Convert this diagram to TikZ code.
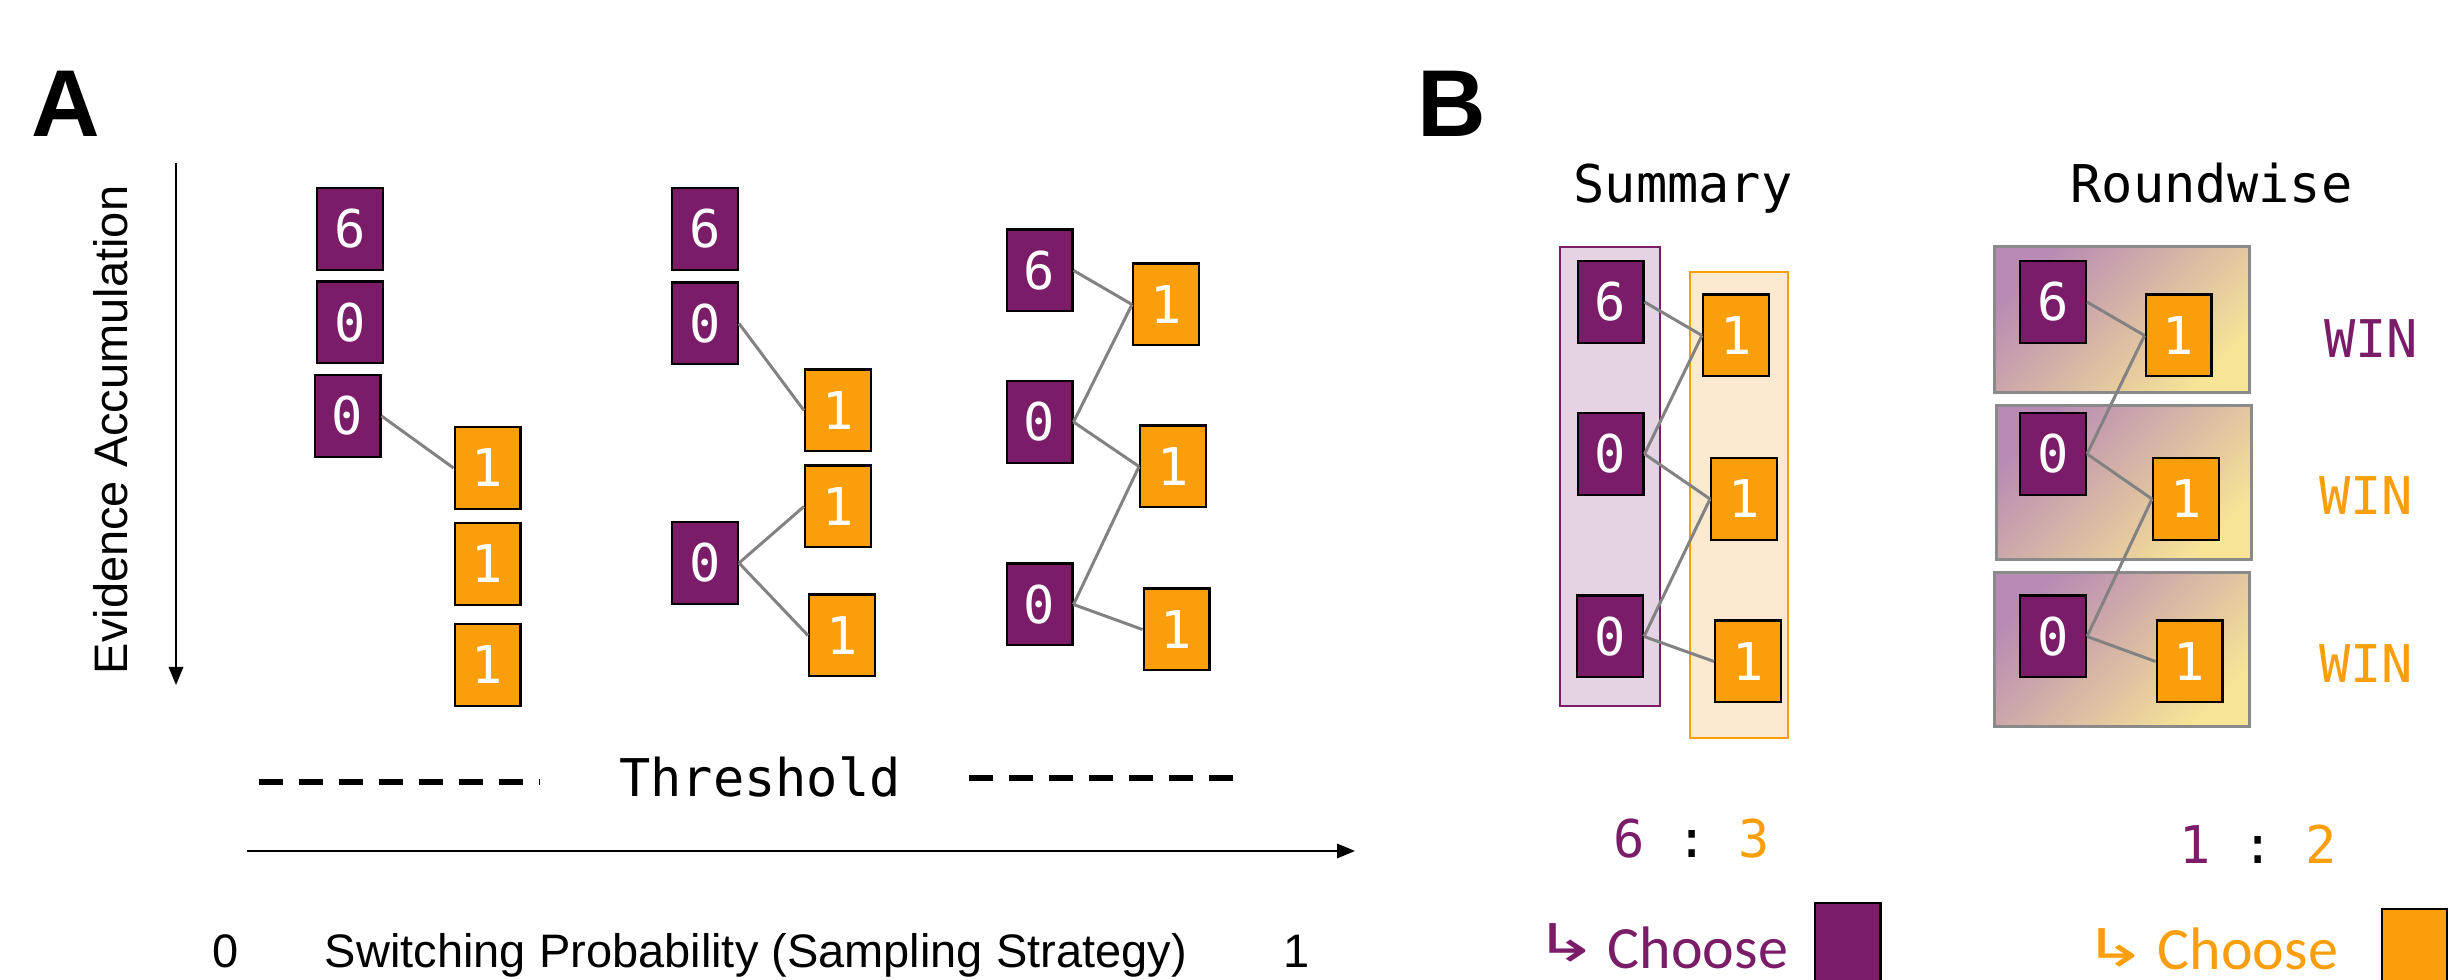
\documentclass[tikz,border=0pt]{standalone}
\usepackage{fontspec}
\setmainfont{Liberation Sans}
\setmonofont{DejaVu Sans Mono}
\newfontfamily\calfont{Carlito}
\newfontfamily\symfont{DejaVu Sans}
\usetikzlibrary{arrows.meta}

\definecolor{Plum}{RGB}{122,28,104}
\definecolor{Amber}{RGB}{250,158,11}
\definecolor{LinkGray}{RGB}{130,130,130}
\definecolor{PlumPale}{RGB}{227,211,227}
\definecolor{AmberPale}{RGB}{252,234,208}
\definecolor{RoundTop}{RGB}{184,138,180}
\definecolor{RoundBot}{RGB}{247,228,150}
\definecolor{FrameGray}{RGB}{138,138,138}

% wide return-arrow glyph
\newcommand{\widehook}{\scalebox{1.5}[1]{↳}}

\tikzset{
  cell/.style={draw=black, line width=0.6pt, minimum width=16.4pt, minimum height=20.4pt,
               inner sep=0pt, text=white, font=\fontsize{13pt}{15pt}\selectfont\ttfamily},
  pcell/.style={cell, fill=Plum},
  ocell/.style={cell, fill=Amber},
  link/.style={draw=LinkGray, line width=0.75pt},
  axisline/.style={line width=0.5pt, -{Triangle[length=4.5pt,width=3.6pt]}},
  thresh/.style={line width=1.5pt, dash pattern=on 6pt off 4pt},
  mono/.style={inner sep=0pt, font=\fontsize{13pt}{15pt}\selectfont\ttfamily},
  sans/.style={inner sep=0pt, font=\fontsize{11.75pt}{14pt}\selectfont},
  panel/.style={inner sep=0pt, anchor=base west, font=\fontsize{23.75pt}{28pt}\selectfont\bfseries},
  choose/.style={inner sep=0pt, anchor=base west, font=\fontsize{15pt}{18pt}\selectfont\calfont},
  hook/.style={inner sep=0pt, anchor=base west, font=\fontsize{13pt}{15pt}\selectfont\symfont},
  roundframe/.style={draw=FrameGray, line width=0.75pt, top color=RoundTop,
                     bottom color=RoundBot, shading angle=45},
}

\begin{document}
\begin{tikzpicture}[x=0.25pt,y=-0.25pt]
\path[use as bounding box] (0,0) rectangle (2448,980);
\clip (0,0) rectangle (2448,980);

% ---------- panel labels ----------
\node[panel] (labA) at (31,137) {A};
\node[panel] (labB) at (1417,137) {B};

% ---------- panel A: axes ----------
\coordinate (evTop) at (176,163);
\coordinate (evEnd) at (176,685);
\draw[axisline] (evTop) -- (evEnd);
\node[sans, rotate=90] (evLabel) at (111,430) {Evidence Accumulation};

\coordinate (spL) at (247,851);
\coordinate (spR) at (1355,851);
\draw[axisline] (spL) -- (spR);
\node[sans, anchor=base] (pZero) at (226,968) {0};
\node[sans, anchor=base] (spLabel) at (756,968) {Switching Probability (Sampling Strategy)};
\node[sans, anchor=base] (pOne) at (1297,968) {1};

\coordinate (thL1) at (259,782);
\coordinate (thL2) at (540,782);
\coordinate (thR1) at (969,778);
\coordinate (thR2) at (1248,778);
\draw[thresh] (thL1) -- (thL2);
\draw[thresh] (thR1) -- (thR2);
\node[mono, anchor=base] (thText) at (760,797) {Threshold};

% ---------- panel A: first sequence ----------
\node[pcell] (a1p6)  at (350,229)   {6};
\node[pcell] (a1p0)  at (350,322.5) {0};
\node[pcell] (a1p0b) at (347.5,416) {0};
\node[ocell] (a1o1)  at (487.5,468) {1};
\node[ocell] (a1o2)  at (487.5,564) {1};
\node[ocell] (a1o3)  at (487.5,665) {1};
\draw[link] (a1p0b.east) -- (a1o1.west);

% ---------- panel A: second sequence ----------
\node[pcell] (a2p6)  at (705,229)   {6};
\node[pcell] (a2p0)  at (705,323.5) {0};
\node[ocell] (a2oa)  at (838,410.5) {1};
\node[ocell] (a2ob)  at (838,506.5) {1};
\node[pcell] (a2p0b) at (705,563)   {0};
\node[ocell] (a2oc)  at (842,635.5) {1};
\draw[link] (a2p0.east) -- (a2oa.west);
\draw[link] (a2p0b.east) -- (a2ob.west);
\draw[link] (a2p0b.east) -- (a2oc.west);

% ---------- panel A: third sequence ----------
\node[pcell] (a3p6)  at (1039.5,270.5) {6};
\node[pcell] (a3p0)  at (1039.5,422)   {0};
\node[pcell] (a3p0b) at (1039.5,604.5) {0};
\node[ocell] (a3oa)  at (1166,304.5)   {1};
\node[ocell] (a3ob)  at (1173,466.5)   {1};
\node[ocell] (a3oc)  at (1176.5,629.5) {1};
\draw[link] (a3p6.east) -- (a3oa.west);
\draw[link] (a3p0.east) -- (a3oa.west);
\draw[link] (a3p0.east) -- (a3ob.west);
\draw[link] (a3p0b.east) -- (a3ob.west);
\draw[link] (a3p0b.east) -- (a3oc.west);

% ---------- panel B: summary ----------
\node[mono, anchor=base] (sumTitle) at (1683,203) {Summary};
\filldraw[fill=PlumPale, draw=Plum, line width=0.5pt] (1560,247) rectangle (1660,706);
\filldraw[fill=AmberPale, draw=Amber, line width=0.5pt] (1690,272) rectangle (1788,738);
\node[pcell] (sp6)  at (1610.5,302)  {6};
\node[pcell] (sp0)  at (1610.5,454)  {0};
\node[pcell] (sp0b) at (1610,636.5)  {0};
\node[ocell] (soa)  at (1736,335.5)  {1};
\node[ocell] (sob)  at (1744,499)    {1};
\node[ocell] (soc)  at (1748,661.5)  {1};
\draw[link] (sp6.east) -- (soa.west);
\draw[link] (sp0.east) -- (soa.west);
\draw[link] (sp0.east) -- (sob.west);
\draw[link] (sp0b.east) -- (sob.west);
\draw[link] (sp0b.east) -- (soc.west);

\node[mono, anchor=base] (sumRatio) at (1692,858)
  {\textcolor{Plum}{6} : \textcolor{Amber}{3}};
\node[hook, text=Plum] (sumHook) at (1533,962) {\widehook};
\node[choose, text=Plum] (sumChoose) at (1607,969) {Choose};
\node[pcell] (sumPick) at (1847.5,944) {};

% ---------- panel B: roundwise ----------
\node[mono, anchor=base] (rndTitle) at (2211.5,203) {Roundwise};
\shadedraw[roundframe] (1994,247) rectangle (2249,393);
\shadedraw[roundframe] (1996,406) rectangle (2251,560);
\shadedraw[roundframe] (1994,573) rectangle (2249,727);
\node[pcell] (rp6)  at (2053,302)    {6};
\node[pcell] (rp0)  at (2053,454)    {0};
\node[pcell] (rp0b) at (2053,636.5)  {0};
\node[ocell] (roa)  at (2178.5,335.5) {1};
\node[ocell] (rob)  at (2186,499)    {1};
\node[ocell] (roc)  at (2189.5,661.5) {1};
\draw[link] (rp6.east) -- (roa.west);
\draw[link] (rp0.east) -- (roa.west);
\draw[link] (rp0.east) -- (rob.west);
\draw[link] (rp0b.east) -- (rob.west);
\draw[link] (rp0b.east) -- (roc.west);

\node[mono, anchor=base, text=Plum]  (win1) at (2371,358) {WIN};
\node[mono, anchor=base, text=Amber] (win2) at (2366,515) {WIN};
\node[mono, anchor=base, text=Amber] (win3) at (2366,683) {WIN};

\node[mono, anchor=base] (rndRatio) at (2258,864)
  {\textcolor{Plum}{1} : \textcolor{Amber}{2}};
\node[hook, text=Amber] (rndHook) at (2082,967) {\widehook};
\node[choose, text=Amber] (rndChoose) at (2157,970) {Choose};
\node[ocell] (rndPick) at (2414.5,950) {};
\end{tikzpicture}
\end{document}
